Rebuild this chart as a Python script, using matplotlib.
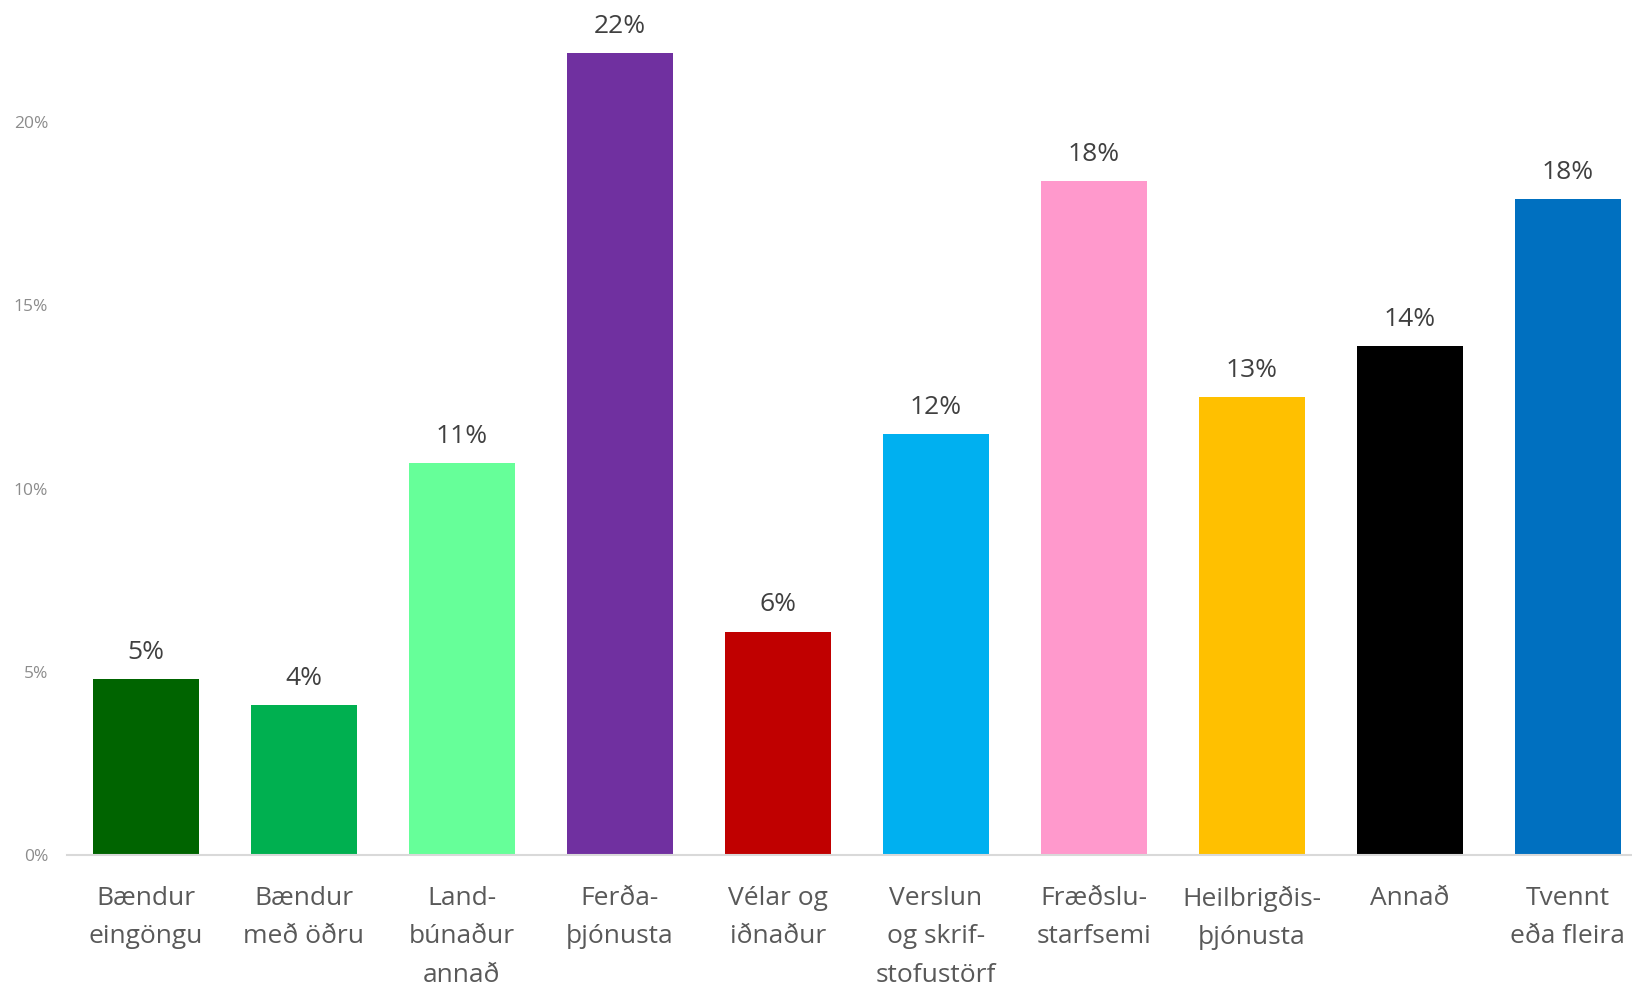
import matplotlib
matplotlib.use('Agg')
import matplotlib.pyplot as plt
from matplotlib.ticker import FuncFormatter

# Gögn
flokkar = [
    "Bændur\neingöngu", "Bændur\nmeð öðru", "Land-\nbúnaður\nannað", "Ferða-\nþjónusta",
    "Vélar og\niðnaður", "Verslun\nog skrif-\nstofustörf", "Fræðslu-\nstarfsemi",
    "Heilbrigðis-\nþjónusta", "Annað", "Tvennt\neða fleira",
]
hlutfall = [4.8, 4.1, 10.7, 21.9, 6.1, 11.5, 18.4, 12.5, 13.9, 17.9]
merki = ["5%", "4%", "11%", "22%", "6%", "12%", "18%", "13%", "14%", "18%"]
litir = ["#006400", "#00B050", "#66FF99", "#7030A0", "#C00000",
         "#00B0F0", "#FF99CC", "#FFC000", "#000000", "#0070C0"]
y_ticks = [0, 5, 10, 15, 20]

plt.rcParams['font.family'] = ['Open Sans', 'DejaVu Sans']

fig = plt.figure(figsize=(16.32, 9.89), dpi=100)
ax = fig.add_axes([0.041, 0.1355, 0.968, 0.852])

x = range(len(flokkar))
bars = ax.bar(x, hlutfall, width=0.67, color=litir)

for b, m in zip(bars, merki):
    ax.annotate(m, (b.get_x() + b.get_width() / 2, b.get_height()),
                xytext=(0, 14.5), textcoords='offset points',
                ha='center', va='baseline', fontsize=19, color='#404040')

ax.set_xlim(-0.5, len(flokkar) - 0.5)
ax.set_ylim(0, 23)
ax.set_yticks(y_ticks)
ax.yaxis.set_major_formatter(FuncFormatter(lambda v, p: f"{v:.0f}%"))
ax.set_xticks(list(x))
ax.set_xticklabels(flokkar, fontsize=19, color='#595959', linespacing=1.72)

ax.tick_params(axis='x', length=0, pad=22)
ax.tick_params(axis='y', length=0, pad=13.5, labelsize=12.5, labelcolor='#8c8c8c')

for s in ['top', 'right', 'left']:
    ax.spines[s].set_visible(False)
ax.spines['bottom'].set_color('#d9d9d9')
ax.spines['bottom'].set_linewidth(1.5)

plt.savefig('out.png', dpi=100)
plt.close()
